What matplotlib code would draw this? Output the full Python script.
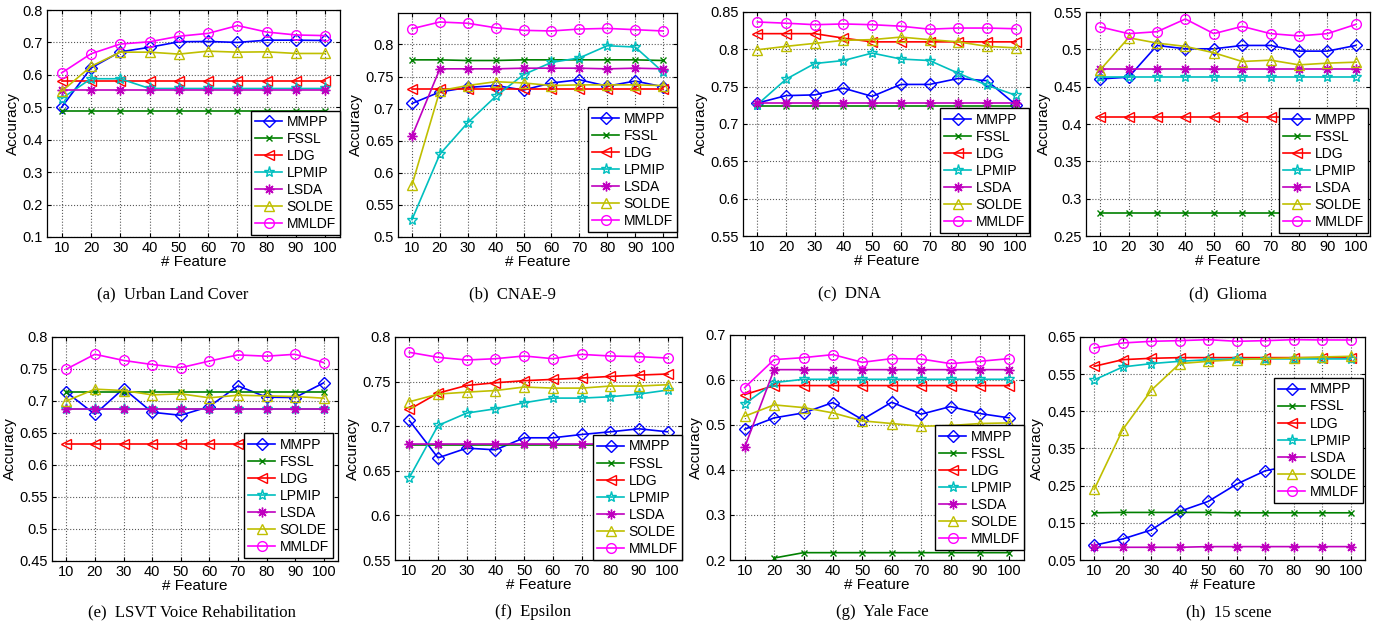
import numpy as np
import matplotlib
matplotlib.use("Agg")
import matplotlib.pyplot as plt
from matplotlib.ticker import FuncFormatter, FixedLocator

plt.rcParams['font.family'] = ['Liberation Sans', 'DejaVu Sans']

features = [10, 20, 30, 40, 50, 60, 70, 80, 90, 100]
methods = ["MMPP", "FSSL", "LDG", "LPMIP", "LSDA", "SOLDE", "MMLDF"]
colors = ["#0000FF", "#008000", "#FF0000", "#00BFBF", "#BF00BF", "#BFBF00", "#FF00FF"]
markers = ["D", "x", "<", "*", (8, 2, 0), "^", "o"]
msizes = [6, 5, 7, 8, 7, 7, 7]

urban = {
    "MMPP":  [0.500, 0.621, 0.671, 0.685, 0.702, 0.703, 0.700, 0.707, 0.707, 0.706],
    "FSSL":  [0.489, 0.489, 0.489, 0.489, 0.489, 0.489, 0.489, 0.489, 0.489, 0.489],
    "LDG":   [0.581, 0.581, 0.581, 0.581, 0.581, 0.581, 0.581, 0.581, 0.581, 0.581],
    "LPMIP": [0.527, 0.588, 0.588, 0.558, 0.558, 0.558, 0.558, 0.558, 0.558, 0.558],
    "LSDA":  [0.553, 0.553, 0.553, 0.553, 0.553, 0.553, 0.553, 0.553, 0.553, 0.553],
    "SOLDE": [0.549, 0.626, 0.670, 0.670, 0.664, 0.673, 0.670, 0.671, 0.666, 0.666],
    "MMLDF": [0.606, 0.665, 0.695, 0.702, 0.719, 0.728, 0.752, 0.732, 0.723, 0.721],
}
cnae = {
    "MMPP":  [0.708, 0.726, 0.733, 0.736, 0.729, 0.740, 0.745, 0.735, 0.743, 0.734],
    "FSSL":  [0.776, 0.776, 0.775, 0.775, 0.776, 0.776, 0.776, 0.776, 0.776, 0.775],
    "LDG":   [0.730, 0.730, 0.730, 0.730, 0.730, 0.730, 0.730, 0.730, 0.730, 0.730],
    "LPMIP": [0.527, 0.629, 0.678, 0.719, 0.753, 0.772, 0.779, 0.798, 0.796, 0.757],
    "LSDA":  [0.657, 0.762, 0.762, 0.762, 0.763, 0.763, 0.763, 0.762, 0.763, 0.762],
    "SOLDE": [0.581, 0.728, 0.736, 0.742, 0.740, 0.736, 0.737, 0.737, 0.737, 0.736],
    "MMLDF": [0.8245, 0.835, 0.833, 0.826, 0.822, 0.821, 0.824, 0.825, 0.823, 0.821],
}
dna = {
    "MMPP":  [0.728, 0.738, 0.739, 0.748, 0.737, 0.753, 0.753, 0.761, 0.758, 0.726],
    "FSSL":  [0.7246, 0.7246, 0.7246, 0.7246, 0.7246, 0.7246, 0.7246, 0.7246, 0.7246, 0.7246],
    "LDG":   [0.821, 0.821, 0.821, 0.815, 0.810, 0.810, 0.810, 0.810, 0.810, 0.810],
    "LPMIP": [0.726, 0.760, 0.781, 0.785, 0.795, 0.787, 0.785, 0.768, 0.752, 0.7385],
    "LSDA":  [0.7286, 0.7286, 0.7286, 0.7286, 0.7286, 0.7286, 0.7286, 0.7286, 0.7286, 0.7286],
    "SOLDE": [0.7994, 0.804, 0.808, 0.812, 0.813, 0.8164, 0.813, 0.810, 0.804, 0.802],
    "MMLDF": [0.8366, 0.835, 0.833, 0.834, 0.833, 0.831, 0.827, 0.8285, 0.8285, 0.8276],
}
glioma = {
    "MMPP":  [0.4604, 0.4627, 0.5052, 0.5007, 0.5007, 0.5052, 0.5052, 0.4976, 0.4976, 0.5052],
    "FSSL":  [0.281, 0.281, 0.281, 0.281, 0.281, 0.281, 0.281, 0.281, 0.281, 0.281],
    "LDG":   [0.409, 0.409, 0.409, 0.409, 0.409, 0.409, 0.409, 0.409, 0.409, 0.409],
    "LPMIP": [0.4627, 0.4627, 0.4627, 0.4627, 0.4627, 0.4627, 0.4627, 0.4627, 0.4627, 0.4627],
    "LSDA":  [0.473, 0.473, 0.473, 0.473, 0.473, 0.473, 0.473, 0.473, 0.473, 0.473],
    "SOLDE": [0.4725, 0.5155, 0.5084, 0.5039, 0.4954, 0.4837, 0.4855, 0.4792, 0.4815, 0.4828],
    "MMLDF": [0.530, 0.521, 0.5236, 0.5406, 0.521, 0.5307, 0.521, 0.518, 0.521, 0.5334],
}
lsvt = {
    "MMPP":  [0.7138, 0.6793, 0.7195, 0.6824, 0.6777, 0.6913, 0.7237, 0.706, 0.7054, 0.7284],
    "FSSL":  [0.7133, 0.7133, 0.7133, 0.7133, 0.7133, 0.7133, 0.7133, 0.7133, 0.7133, 0.7133],
    "LDG":   [0.6333, 0.6333, 0.6333, 0.6333, 0.6333, 0.6333, 0.6333, 0.6333, 0.6333, 0.6333],
    "LPMIP": [0.688, 0.688, 0.688, 0.688, 0.688, 0.688, 0.688, 0.688, 0.688, 0.688],
    "LSDA":  [0.688, 0.688, 0.688, 0.688, 0.688, 0.688, 0.688, 0.688, 0.688, 0.688],
    "SOLDE": [0.700, 0.7185, 0.7164, 0.7096, 0.7112, 0.705, 0.709, 0.708, 0.707, 0.7044],
    "MMLDF": [0.7498, 0.773, 0.7634, 0.757, 0.752, 0.7624, 0.772, 0.770, 0.773, 0.760],
}
epsilon = {
    "MMPP":  [0.7064, 0.6645, 0.6754, 0.6735, 0.687, 0.687, 0.6907, 0.6937, 0.6971, 0.6937],
    "FSSL":  [0.679, 0.679, 0.679, 0.679, 0.679, 0.679, 0.679, 0.679, 0.679, 0.679],
    "LDG":   [0.7188, 0.7371, 0.7457, 0.7487, 0.751, 0.7525, 0.754, 0.7558, 0.7573, 0.7585],
    "LPMIP": [0.6424, 0.7008, 0.7147, 0.7195, 0.7263, 0.7315, 0.7315, 0.733, 0.736, 0.7405],
    "LSDA":  [0.6795, 0.6795, 0.6795, 0.6795, 0.6795, 0.6795, 0.6795, 0.6795, 0.6795, 0.6795],
    "SOLDE": [0.7274, 0.736, 0.7382, 0.740, 0.7439, 0.7427, 0.7427, 0.745, 0.745, 0.7465],
    "MMLDF": [0.7828, 0.7772, 0.7742, 0.7757, 0.7787, 0.7757, 0.7805, 0.7787, 0.778, 0.7764],
}
yale = {
    "MMPP":  [0.4907, 0.5158, 0.5269, 0.5499, 0.5121, 0.5506, 0.524, 0.541, 0.5254, 0.5158],
    "FSSL":  [np.nan, 0.2044, 0.2163, 0.2163, 0.2163, 0.2163, 0.2163, 0.2163, 0.2163, 0.2163],
    "LDG":   [0.5676, 0.5876, 0.5876, 0.5876, 0.5876, 0.5876, 0.5876, 0.5876, 0.5876, 0.5876],
    "LPMIP": [0.5469, 0.5942, 0.6016, 0.6016, 0.6016, 0.6016, 0.6016, 0.6016, 0.6016, 0.6016],
    "LSDA":  [0.4507, 0.623, 0.623, 0.623, 0.623, 0.623, 0.623, 0.623, 0.623, 0.623],
    "SOLDE": [0.5195, 0.5447, 0.5387, 0.5269, 0.5092, 0.5033, 0.4973, 0.4988, 0.5033, 0.5047],
    "MMLDF": [0.5831, 0.6453, 0.6497, 0.6564, 0.6393, 0.6475, 0.6467, 0.6364, 0.6416, 0.6475],
}
scene = {
    "MMPP":  [0.0896, 0.1066, 0.1308, 0.1809, 0.2077, 0.2543, 0.2901, 0.305, 0.318, 0.330],
    "FSSL":  [0.177, 0.178, 0.178, 0.178, 0.178, 0.177, 0.177, 0.177, 0.177, 0.177],
    "LDG":   [0.5712, 0.589, 0.5927, 0.5945, 0.5945, 0.5945, 0.5945, 0.5945, 0.5945, 0.5945],
    "LPMIP": [0.5345, 0.5694, 0.5784, 0.5846, 0.589, 0.591, 0.591, 0.591, 0.591, 0.591],
    "LSDA":  [0.0842, 0.0842, 0.0842, 0.0842, 0.086, 0.086, 0.086, 0.086, 0.086, 0.086],
    "SOLDE": [0.240, 0.4011, 0.5068, 0.5784, 0.5846, 0.589, 0.5918, 0.5936, 0.5963, 0.5981],
    "MMLDF": [0.6205, 0.6339, 0.6384, 0.6402, 0.6428, 0.6384, 0.6402, 0.6428, 0.642, 0.642],
}

captions = ["(a)  Urban Land Cover", "(b)  CNAE-9", "(c)  DNA", "(d)  Glioma",
            "(e)  LSVT Voice Rehabilitation", "(f)  Epsilon", "(g)  Yale Face", "(h)  15 scene"]
datasets = [urban, cnae, dna, glioma, lsvt, epsilon, yale, scene]

W, H = 1395, 630
# axes boxes in pixels: x0, x1, ytop, ybottom
boxes = [(47, 340, 10, 237), (398, 677, 13, 237), (743, 1030, 12, 236), (1086, 1370, 12, 236),
         (52, 338, 337, 561), (395, 682, 337, 560), (730, 1024, 335, 560), (1080, 1365, 337, 560)]
ylims = [(0.1, 0.8), (0.5, 0.849), (0.55, 0.85), (0.25, 0.55),
         (0.45, 0.8), (0.55, 0.8), (0.2, 0.7), (0.05, 0.65)]
yticks = [np.arange(0.1, 0.801, 0.1), np.arange(0.5, 0.801, 0.05), np.arange(0.55, 0.851, 0.05),
          np.arange(0.25, 0.551, 0.05), np.arange(0.45, 0.801, 0.05), np.arange(0.55, 0.801, 0.05),
          np.arange(0.2, 0.701, 0.1), np.arange(0.05, 0.651, 0.1)]
leg_anchor = [(1.0, 0.008), (1.0, 0.022), (0.997, 0.013), (0.993, 0.013),
              (0.983, 0.013), (1.0, 0.0), (1.0, 0.044), (0.993, 0.256)]
cap_pos = [(173, 294), (512, 294), (849, 294), (1228, 294),
           (192, 612), (533, 612), (882, 612), (1229, 612)]

fig = plt.figure(figsize=(W / 100, H / 100), dpi=100)

fmt = FuncFormatter(lambda v, p: ("%.2f" % v).rstrip('0').rstrip('.') if v != 0 else "0")

for i, data in enumerate(datasets):
    x0, x1, yt, yb = boxes[i]
    ax = fig.add_axes([x0 / W, 1 - yb / H, (x1 - x0) / W, (yb - yt) / H])
    for m, c, mk, ms in zip(methods, colors, markers, msizes):
        ax.plot(features, data[m], color=c, marker=mk, markersize=ms,
                markerfacecolor='none', markeredgecolor=c, markeredgewidth=1.0,
                linewidth=1.2, label=m)
    ax.set_xlim(5, 105)
    ax.set_ylim(*ylims[i])
    ax.set_xticks(features)
    ax.yaxis.set_major_locator(FixedLocator(yticks[i]))
    ax.yaxis.set_major_formatter(fmt)
    ax.tick_params(direction='in', top=True, right=True, labelsize=10.5, length=3, pad=3)
    ax.grid(True, linestyle=':', color='0.35', linewidth=0.8)
    for s in ax.spines.values():
        s.set_linewidth(0.9)
    ax.set_xlabel("# Feature", fontsize=11, labelpad=0)
    ax.set_ylabel("Accuracy", fontsize=11, labelpad=2)
    leg = ax.legend(loc='lower right', bbox_to_anchor=leg_anchor[i], fontsize=10,
                    fancybox=False, framealpha=1, edgecolor='black', borderpad=0.3,
                    labelspacing=0.22, handlelength=1.9, handletextpad=0.35,
                    borderaxespad=0.0)
    leg.get_frame().set_linewidth(1.0)
    cx, cy = cap_pos[i]
    fig.text(cx / W, 1 - cy / H, captions[i], ha='center', va='center',
             fontsize=12, family=['Liberation Serif', 'DejaVu Serif'])

fig.savefig("out.png", dpi=100)
